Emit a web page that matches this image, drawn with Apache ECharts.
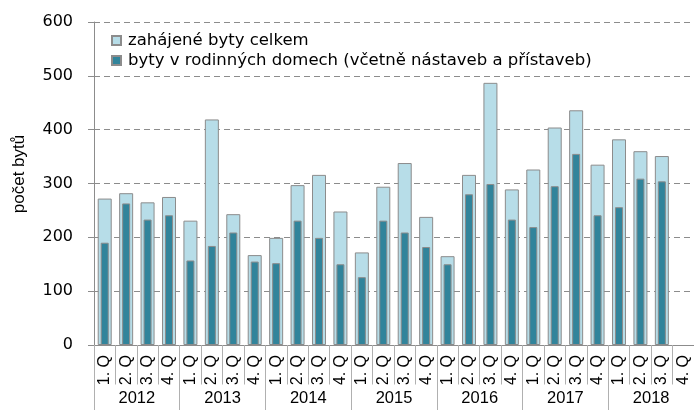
<!DOCTYPE html>
<html>
<head>
<meta charset="utf-8">
<script src="https://cdn.jsdelivr.net/npm/echarts@6/dist/echarts.min.js"></script>
<style>
html, body { margin: 0; padding: 0; background: #fff; }
#chart { width: 694px; height: 410px; }
</style>
</head>
<body>
<div id="chart"></div>
<script>
// quarterly data 2012-2018 (2018 Q4 not yet available)
const quarters = [];
const years = ["2012", "2013", "2014", "2015", "2016", "2017", "2018"];
years.forEach(() => {
  quarters.push("1. Q", "2. Q", "3. Q", "4. Q");
});
const total = [
  272, 282, 265, 275,
  231, 419, 243, 167,
  199, 297, 316, 248,
  172, 294, 338, 238,
  165, 316, 487, 289,
  326, 404, 436, 335,
  382, 360, 351, null
];
const family = [
  190, 263, 233, 241,
  157, 184, 209, 155,
  152, 231, 199, 150,
  126, 231, 209, 182,
  150, 280, 299, 233,
  219, 295, 355, 241,
  256, 309, 304, null
];

const font = "Liberation Sans, Arial, sans-serif";
const wide = "DejaVu Sans, sans-serif";
const grey = "#8c8c8c";
const sep = "#b0b0b0";

let chart = echarts.init(document.getElementById("chart"));
let option = {
  animation: false,
  textStyle: { fontFamily: font, color: "#000" },
  grid: { left: 94, right: -2, top: 22, bottom: 65 },
  legend: {
    orient: "vertical",
    left: 106,
    top: 27,
    itemWidth: 9,
    itemHeight: 9,
    itemGap: 3,
    textStyle: { fontFamily: wide, fontSize: 16.5, color: "#000", padding: [0, 0, 0, 2] },
    data: [
      { name: "zahájené byty celkem", icon: "rect" },
      { name: "byty v rodinných domech (včetně nástaveb a přístaveb)", icon: "rect" }
    ]
  },
  graphic: [
    {
      // the year row hides the overflowing ends of the quarter labels
      type: "rect",
      z: 10,
      shape: { x: 95, y: 384.5, width: 600, height: 6 },
      style: { fill: "#fff" }
    }
  ],
  xAxis: [
    {
      type: "category",
      position: "bottom",
      data: quarters,
      axisLine: { lineStyle: { color: grey, width: 1 } },
      axisTick: { show: true, interval: 0, length: 40, lineStyle: { color: sep } },
      axisLabel: {
        interval: 0,
        rotate: 90,
        margin: 10,
        fontSize: 16,
        color: "#000",
        fontFamily: font
      }
    },
    {
      type: "category",
      position: "bottom",
      data: quarters,
      show: false
    },
    {
      type: "category",
      position: "bottom",
      z: 20,
      data: years,
      axisLine: { show: false },
      axisTick: { show: true, interval: 0, length: 66, lineStyle: { color: sep } },
      axisLabel: { interval: 0, margin: 45, fontSize: 16.5, color: "#000", fontFamily: font }
    }
  ],
  yAxis: {
    type: "value",
    min: 0,
    max: 600,
    interval: 100,
    name: "počet bytů",
    nameLocation: "middle",
    nameGap: 66,
    nameTextStyle: { fontSize: 17, color: "#000", fontFamily: font, padding: [0, 0, 0, 19] },
    axisLine: { show: true, lineStyle: { color: grey } },
    axisTick: { show: true, length: 6, lineStyle: { color: grey } },
    axisLabel: { fontSize: 16, color: "#000", margin: 21, fontFamily: wide },
    splitLine: { lineStyle: { color: grey, type: [6, 4] } }
  },
  series: [
    {
      name: "zahájené byty celkem",
      type: "bar",
      xAxisIndex: 0,
      barWidth: 14,
      data: total,
      itemStyle: { color: "#b7dde8", borderColor: grey, borderWidth: 1 }
    },
    {
      name: "byty v rodinných domech (včetně nástaveb a přístaveb)",
      type: "bar",
      xAxisIndex: 1,
      barWidth: 8,
      data: family,
      itemStyle: { color: "#31849b", borderColor: grey, borderWidth: 1 }
    }
  ]
};
chart.setOption(option);
</script>
</body>
</html>
